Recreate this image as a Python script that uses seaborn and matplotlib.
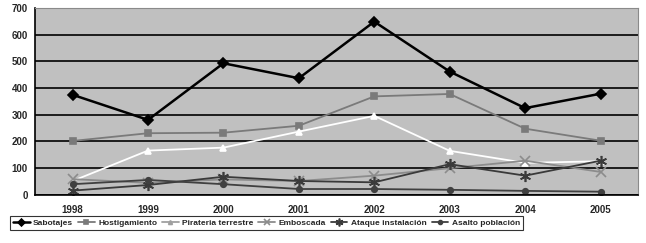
import matplotlib
matplotlib.use("Agg")
import matplotlib.pyplot as plt
import seaborn as sns
import pandas as pd

# Datos
anios = ["1998", "1999", "2000", "2001", "2002", "2003", "2004", "2005"]
sabotajes = [375, 281, 493, 437, 649, 462, 325, 379]
hostigamiento = [202, 231, 233, 259, 369, 378, 248, 203]
pirateria = [52, 166, 177, 237, 296, 165, 120, 126]
emboscada = [59, 45, 58, 52, 72, 100, 128, 86]
ataque = [16, 37, 68, 52, 47, 115, 72, 128]
asalto = [40, 56, 40, 22, 22, 19, 15, 12]

series = [
    ("Sabotajes", sabotajes, "#000000", "D", 5, 1.8),
    ("Hostigamiento", hostigamiento, "#7a7a7a", "s", 4, 1.3),
    ("Pirateria terrestre", pirateria, "#ffffff", "^", 4, 1.3),
    ("Emboscada", emboscada, "#8c8c8c", "x", 7, 1.3),
    ("Ataque instalación", ataque, "#3a3a3a", (6, 2, 0), 8, 1.3),
    ("Asalto población", asalto, "#404040", "o", 4, 1.3),
]

sns.set_style("white")
plt.rcParams["font.family"] = ["Liberation Sans", "DejaVu Sans"]

fig = plt.figure(figsize=(6.46, 2.43), dpi=100)
ax = fig.add_axes([0.054, 0.198, 0.934, 0.769])
ax.set_facecolor("#c0c0c0")

for nombre, valores, color, marcador, tam, lw in series:
    df = pd.DataFrame({"anio": anios, "valor": valores})
    sns.lineplot(data=df, x="anio", y="valor", ax=ax, color=color,
                 marker=marcador, markersize=tam, linewidth=lw,
                 markeredgecolor=color, markerfacecolor=color,
                 markeredgewidth=1.2, label=nombre, legend=False)

ax.set_xlim(-0.5, len(anios) - 0.5)
ax.set_ylim(0, 700)
ax.set_yticks(range(0, 701, 100))
ax.yaxis.grid(True, color="#000000", linewidth=1.2)
ax.set_axisbelow(True)
ax.set_xlabel("")
ax.set_ylabel("")

# ticks del eje x entre categorías
ax.set_xticks([i - 0.5 for i in range(len(anios) + 1)], minor=True)
ax.tick_params(axis="x", which="minor", length=4, width=0.8, color="#000000", direction="out")
ax.tick_params(axis="x", which="major", length=0, pad=7)
ax.tick_params(axis="y", length=3, width=0.8, color="#000000", direction="out", pad=2)
for lab in ax.get_xticklabels() + ax.get_yticklabels():
    lab.set_fontsize(7)
    lab.set_fontweight("bold")

for lado in ["top", "right"]:
    ax.spines[lado].set_color("#8a8a8a")
    ax.spines[lado].set_linewidth(0.8)
for lado in ["left", "bottom"]:
    ax.spines[lado].set_color("#000000")
    ax.spines[lado].set_linewidth(1.2)

# leyenda
handles, labels = ax.get_legend_handles_labels()
leg = fig.legend(handles, labels, loc="upper left", bbox_to_anchor=(10 / 646, 1 - 216 / 243),
                 ncol=6, fontsize=6.0, frameon=True, fancybox=False,
                 handlelength=2.0, handletextpad=0.4, columnspacing=0.6,
                 borderpad=0.35, borderaxespad=0, edgecolor="#000000", markerscale=0.7)
leg.get_frame().set_linewidth(0.8)
for t in leg.get_texts():
    t.set_fontweight("bold")
for h in leg.legend_handles:
    if h.get_color() == "#ffffff":
        h.set_color("#a0a0a0")
        h.set_markeredgecolor("#a0a0a0")
        h.set_markerfacecolor("#a0a0a0")

fig.savefig("out.png", dpi=100)
